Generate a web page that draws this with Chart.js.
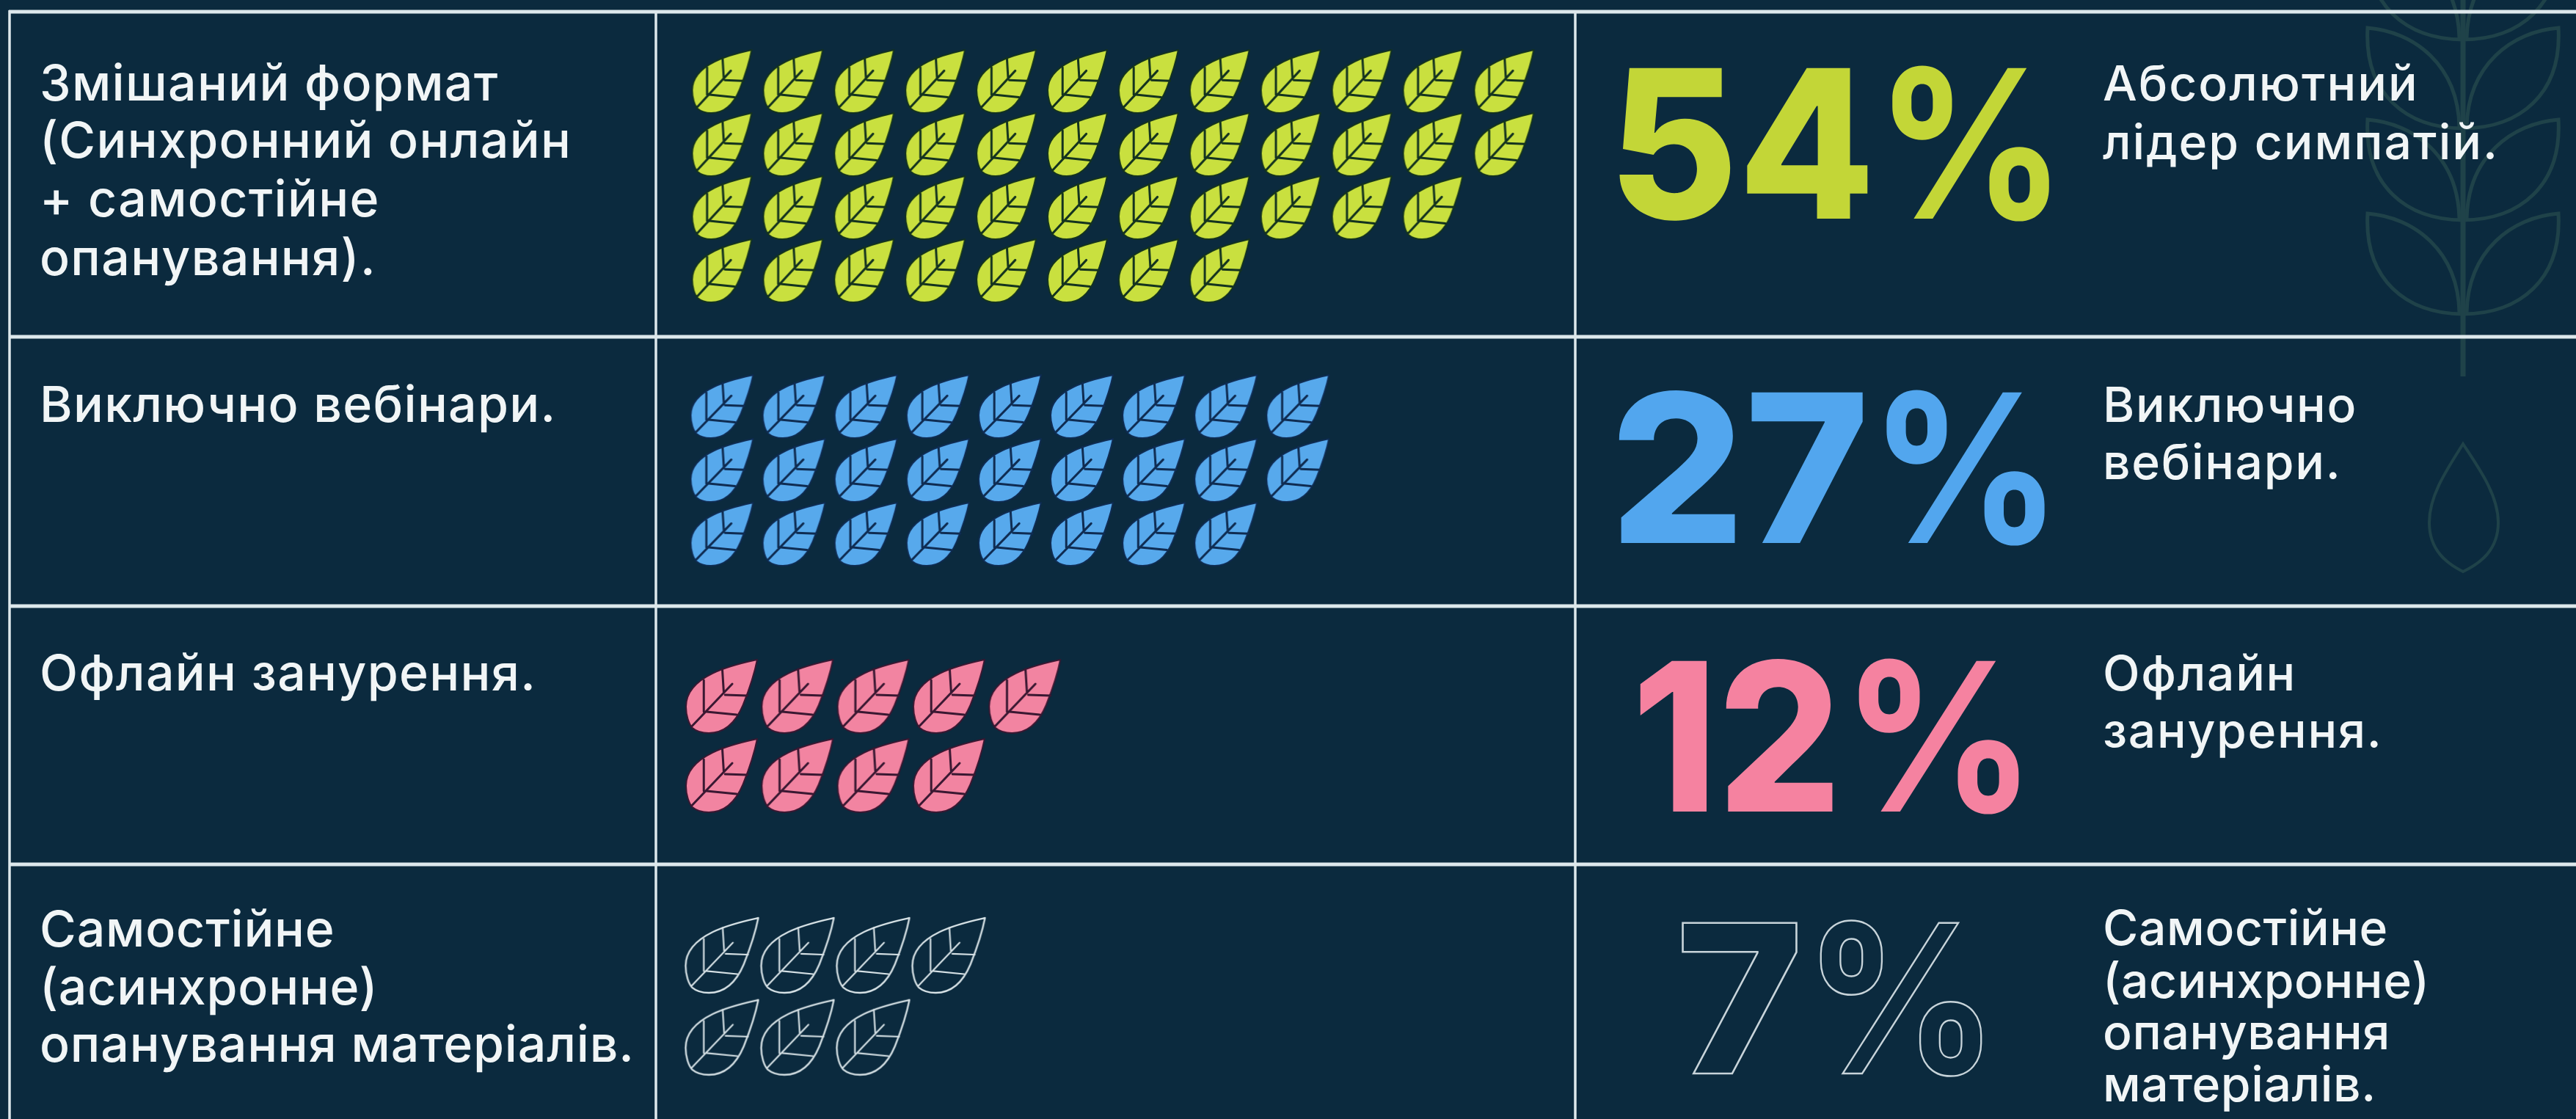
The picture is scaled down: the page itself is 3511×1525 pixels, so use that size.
<!DOCTYPE html>
<html lang="uk">
<head>
<meta charset="utf-8">
<title>Формат навчання</title>
<script src="https://cdn.jsdelivr.net/npm/chart.js@4"></script>
<style>
html,body{margin:0;padding:0;background:#0b2a3e;overflow:hidden}
#stage{position:relative;width:3511px;height:1525px;background:#0b2a3e}
#stage svg,#stage canvas{position:absolute;left:0;top:0}
text{font-family:Inter,"Noto Sans",sans-serif}
</style>
</head>
<body>
<div id="stage">
<svg id="art" width="3511" height="1525" viewBox="0 0 3511 1525" xmlns="http://www.w3.org/2000/svg"></svg>
<canvas id="leaves" width="3511" height="1525"></canvas>
</div>
<script>
/* ---------- data ---------- */
const categories = ["Змішаний формат (Синхронний онлайн + самостійне опанування).","Виключно вебінари.","Офлайн занурення.","Самостійне (асинхронне) опанування матеріалів."];
const shares = [54, 27, 12, 7];
const leafRows = [[12, 12, 11, 8], [9, 9, 8], [5, 4], [4, 3]];
const leftLines = [
  ["Змішаний формат", "(Синхронний онлайн", "+ самостійне", "опанування)."],
  ["Виключно вебінари."],
  ["Офлайн занурення."],
  ["Самостійне", "(асинхронне)", "опанування матеріалів."]
];
const rightLines = [
  ["Абсолютний", "лідер симпатій."],
  ["Виключно", "вебінари."],
  ["Офлайн", "занурення."],
  ["Самостійне", "(асинхронне)", "опанування", "матеріалів."]
];

/* ---------- layout and style ---------- */
const W = 3511, H = 1525;
const palette = ["#c9e03f", "#57a9ec", "#f284a1", "#d6e1e5"];
const numberColors = ["#c3d637", "#52a6ee", "#f582a0", "#c8d4da"];
const veinColors = ["#14331f", "#0f2c52", "#3a1832", "#d6e1e5"];
const leafBox = [
  {cx: 984, cy: 111, px: 96.9, py: 86, w: 81, h: 86},
  {cx: 984, cy: 554, px: 98.1, py: 87, w: 85, h: 86},
  {cx: 983.5, cy: 949, px: 103.3, py: 108, w: 97, h: 100},
  {cx: 984, cy: 1302, px: 103, py: 111.7, w: 99, h: 102}
];
const hLines = [16, 459, 826, 1178];
const vLines = [13, 894, 2147];
const leftX = 54, rightX = 2866, textFill = "#f1f5f6", ruleColor = "#dde8ec";
const leftBase = [[137, 215, 295, 375], [575], [941], [1290, 1369, 1447]];
const rightBase = [[137, 217], [575, 653], [941, 1019], [1288, 1360, 1430, 1501]];
const numberBox = [
  {x: 2192, dw: 364, pw: 260, base: 298},
  {x: 2194, dw: 354, pw: 262, base: 740},
  {x: 2224, dw: 286, pw: 265, base: 1106},
  {x: 2284, dw: 174, pw: 266, base: 1463}
];
const leftFont = 68, rightFont = 66, numberFont = 282;
const leftSpacing = [1.3, 1.3, 1.3, 0.8], rightSpacing = [2, 1.7, 1.7, 0.6];

/* ---------- static art, rules and real text ---------- */
const NS = "http://www.w3.org/2000/svg";
const art = document.getElementById("art");
function el(tag, attrs, parent, txt){
  const e = document.createElementNS(NS, tag);
  for (const k in attrs) e.setAttribute(k, attrs[k]);
  if (txt !== undefined) e.textContent = txt;
  (parent || art).appendChild(e);
  return e;
}
const wm = el("g", {fill: "none", stroke: "#1f4249", "stroke-width": 5});
[-83, 38, 163, 291].forEach(t => {
  el("path", {d: `M3352 ${t + 135} C3350 ${t + 50} 3290 ${t + 5} 3227 ${t} C3222 ${t + 90} 3280 ${t + 137} 3357 ${t + 137} C3434 ${t + 137} 3492 ${t + 90} 3487 ${t} C3424 ${t + 5} 3364 ${t + 50} 3362 ${t + 135}`}, wm);
});
el("path", {d: "M3357 0 V513", "stroke-width": 7}, wm);
el("path", {d: "M3357 605 C3335 640 3311 675 3311 712 C3311 750 3335 768 3357 779 C3380 768 3405 750 3405 712 C3405 675 3380 640 3357 605 Z", "stroke-width": 4}, wm);

hLines.forEach(y => el("rect", {x: 12, y: y - 2.5, width: W - 12, height: 5, fill: ruleColor}));
vLines.forEach(x => el("rect", {x: x - 1.75, y: 14, width: 3.5, height: H - 14, fill: ruleColor}));

function lines(list, baseList, x, size, spacing){
  list.forEach((group, i) => group.forEach((line, j) => {
    el("text", {x, y: baseList[i][j], "font-size": size, "font-weight": 500, fill: textFill, "letter-spacing": spacing[i]}, art, line);
  }));
}
lines(leftLines, leftBase, leftX, leftFont, leftSpacing);
lines(rightLines, rightBase, rightX, rightFont, rightSpacing);

shares.forEach((v, i) => {
  const b = numberBox[i];
  const outline = i === 3;
  const t = el("text", {
    x: b.x, y: b.base, "font-size": numberFont, "font-weight": 800,
    fill: outline ? "none" : numberColors[i],
    stroke: outline ? numberColors[i] : "none", "stroke-width": outline ? 2.5 : 0
  });
  el("tspan", {textLength: b.dw, lengthAdjust: "spacingAndGlyphs"}, t, String(v));
  el("tspan", {"font-weight": 700, textLength: b.pw, lengthAdjust: "spacingAndGlyphs"}, t, "%");
});

/* ---------- leaf marker ---------- */
function leafMarker(w, h, fill, vein, outline){
  const c = document.createElement("canvas");
  c.width = Math.ceil(w) + 8; c.height = Math.ceil(h) + 8;
  const g = c.getContext("2d");
  g.translate(4, 4);
  const X = v => v * w, Y = v => v * h;
  g.lineJoin = "round"; g.lineCap = "round";
  g.beginPath();
  g.moveTo(X(1), Y(0));
  g.bezierCurveTo(X(.72), Y(.06), X(0), Y(.2), X(0), Y(.64));
  g.bezierCurveTo(X(0), Y(.76), X(.04), Y(.88), X(.09), Y(.93));
  g.bezierCurveTo(X(.15), Y(.98), X(.23), Y(1), X(.32), Y(1));
  g.bezierCurveTo(X(.55), Y(1), X(.7), Y(.85), X(.8), Y(.62));
  g.bezierCurveTo(X(.87), Y(.45), X(.95), Y(.25), X(1), Y(0));
  g.closePath();
  if (outline){
    g.strokeStyle = fill; g.lineWidth = 2.4; g.stroke();
  } else {
    g.fillStyle = fill; g.fill();
    g.strokeStyle = vein; g.lineWidth = 2; g.stroke();
  }
  g.strokeStyle = vein; g.lineWidth = outline ? 2.2 : 3;
  g.beginPath();
  [[.08, .91, .65, .33], [.55, .48, .86, .49], [.29, .71, .71, .75], [.53, .44, .51, .13], [.25, .71, .25, .28]].forEach(s => {
    g.moveTo(X(s[0]), Y(s[1])); g.lineTo(X(s[2]), Y(s[3]));
  });
  g.stroke();
  return c;
}

/* ---------- chart: one scatter dataset per category, one leaf per point ---------- */
const datasets = [], scales = {};
leafRows.forEach((rows, i) => {
  const b = leafBox[i], pts = [];
  rows.forEach((n, r) => { for (let col = 0; col < n; col++) pts.push({x: col, y: r}); });
  datasets.push({
    label: categories[i], data: pts, xAxisID: "x" + i, yAxisID: "y" + i,
    pointStyle: leafMarker(b.w, b.h, palette[i], veinColors[i], i === 3),
    pointRadius: b.w / 2, showLine: false, clip: false
  });
  scales["x" + i] = {type: "linear", display: false, min: -b.cx / b.px, max: (W - b.cx) / b.px};
  scales["y" + i] = {type: "linear", display: false, reverse: true, min: -b.cy / b.py, max: (H - b.cy) / b.py};
});
new Chart(document.getElementById("leaves"), {
  type: "scatter",
  data: {datasets},
  options: {
    responsive: false, animation: false, events: [],
    layout: {autoPadding: false, padding: 0},
    plugins: {legend: {display: false}, tooltip: {enabled: false}, title: {display: false}},
    scales
  }
});
</script>
</body>
</html>
